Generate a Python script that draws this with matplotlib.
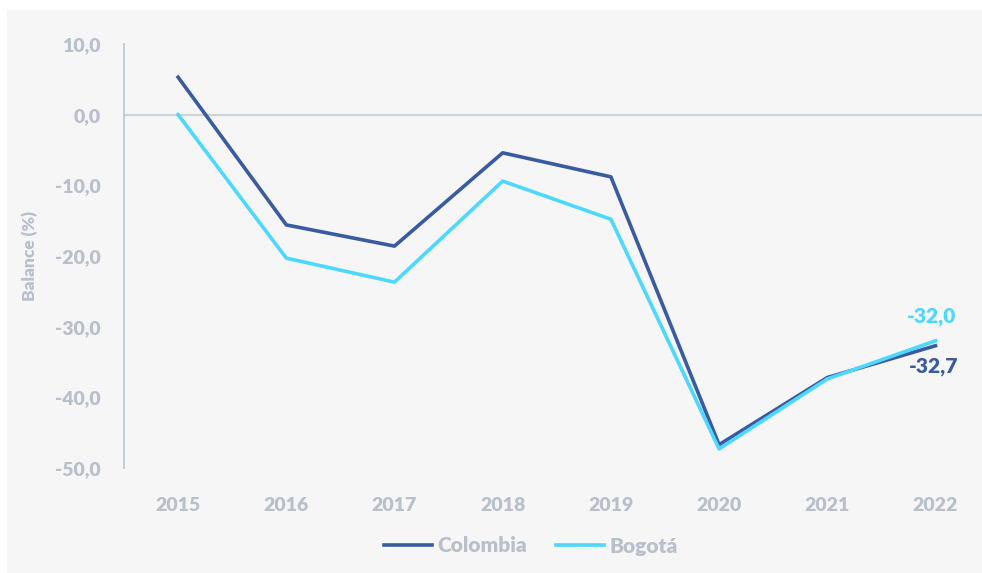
import matplotlib.pyplot as plt
from matplotlib.patches import Rectangle

years = ["2015", "2016", "2017", "2018", "2019", "2020", "2021", "2022"]
colombia = [5.3, -15.6, -18.6, -5.4, -8.8, -46.7, -37.2, -32.7]
bogota = [0.0, -20.3, -23.7, -9.4, -14.8, -47.3, -37.4, -32.0]
y_ticks = [10, 0, -10, -20, -30, -40, -50]

C_COL = "#3a5ba0"
C_BOG = "#4dd8ff"
C_TXT = "#b8c0cb"
C_AX = "#bcc5cf"
WEIGHT = "heavy"

plt.rcParams["font.family"] = ["Lato", "DejaVu Sans"]
plt.rcParams["font.weight"] = WEIGHT

W, H = 982, 573
fig = plt.figure(figsize=(W / 100, H / 100), dpi=100)
fig.patch.set_facecolor("white")
fig.patches.append(Rectangle((7 / W, 0), 1 - 7 / W, 1 - 10 / H,
                             transform=fig.transFigure, facecolor="#f6f6f6",
                             edgecolor="none", zorder=-10))

ax = fig.add_axes([124 / W, 105 / H, 1 - 124 / W, (529 - 105) / H])
ax.set_facecolor("none")

x = list(range(len(years)))
ax.plot(x, colombia, color=C_COL, lw=2.6, label="Colombia", zorder=3)
ax.plot(x, bogota, color=C_BOG, lw=2.6, label="Bogotá", zorder=3)
ax.axhline(0, color="#cbd2da", lw=1.5, zorder=1)

ax.set_xlim(-0.5, 7.43)
ax.set_ylim(-50, 10)
ax.set_xticks(x)
ax.set_xticklabels(years)
ax.set_yticks(y_ticks)
ax.set_yticklabels([f"{v:.1f}".replace(".", ",") for v in y_ticks])
ax.tick_params(length=0, colors=C_TXT, labelsize=14)
ax.tick_params(axis="x", pad=21)
ax.tick_params(axis="y", pad=17)
for lab in ax.get_xticklabels() + ax.get_yticklabels():
    lab.set_fontweight(WEIGHT)

for s in ["top", "right", "bottom"]:
    ax.spines[s].set_visible(False)
ax.spines["left"].set_color(C_AX)
ax.spines["left"].set_linewidth(1.2)

ax.set_ylabel("Balance (%)", color=C_TXT, fontsize=12.5, fontweight=WEIGHT, labelpad=12)

ax.annotate(f"{bogota[-1]:.1f}".replace(".", ","), (7, bogota[-1]),
            xytext=(-3, 11), textcoords="offset points", ha="center", va="bottom",
            color=C_BOG, fontsize=15, fontweight=WEIGHT)
ax.annotate(f"{colombia[-1]:.1f}".replace(".", ","), (7, colombia[-1]),
            xytext=(-1, -8), textcoords="offset points", ha="center", va="top",
            color=C_COL, fontsize=15, fontweight=WEIGHT)

leg = fig.legend(loc="center", bbox_to_anchor=(531 / W, 1 - 546 / H), ncol=2,
                 frameon=False, fontsize=15, handlelength=2.3, handletextpad=0.25,
                 columnspacing=1.4)
for t in leg.get_texts():
    t.set_color(C_TXT)
    t.set_fontweight(WEIGHT)

fig.savefig("out.png", dpi=100)
